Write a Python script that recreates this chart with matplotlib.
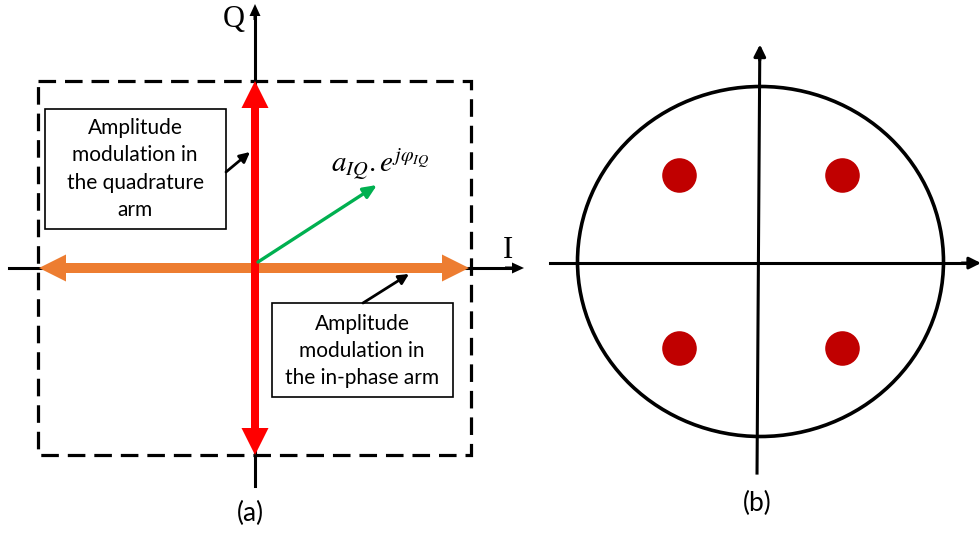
import matplotlib.pyplot as plt
from matplotlib.patches import FancyArrow, Rectangle, Ellipse

plt.rcParams['mathtext.fontset'] = 'stix'

# ---- panel (a) layout (pixel units) ----
origin_a = (255, 268)
box_rect = [38, 81, 471, 455]          # dashed frame: left, top, right, bottom
q_arm = [81, 455]                      # red arrow, y ends
i_arm = [39, 469]                      # orange arrow, x ends
iq_vec = [(258, 262), (377, 185)]      # green vector
label_q = "Q"
label_i = "I"
formula = r'$a_{IQ}.e^{j\varphi_{IQ}}$'
note_q = "Amplitude\nmodulation in\nthe quadrature\narm"
note_i = "Amplitude\nmodulation in\nthe in-phase arm"

# ---- panel (b): QPSK constellation (units of circle radius) ----
const_i = [-0.443, 0.443, -0.443, 0.443]
const_q = [0.494, 0.494, -0.494, -0.494]

fig = plt.figure(figsize=(9.8, 5.35), dpi=100)
ax = fig.add_axes([0, 0, 1, 1])
ax.set_xlim(0, 980)
ax.set_ylim(535, 0)
ax.axis('off')

def arr(x0, y0, x1, y1, w, hw, hl, c, z=3):
    ax.add_patch(FancyArrow(x0, y0, x1 - x0, y1 - y0, width=w, head_width=hw,
                            head_length=hl, length_includes_head=True,
                            color=c, lw=0, zorder=z))

ox, oy = origin_a
# axes
ax.plot([ox, ox], [486, 15], color='k', lw=2.2, zorder=2)
arr(ox, 20, ox, 4, 3, 11, 12, 'k', 2)
ax.plot([9, 513], [oy, oy], color='k', lw=2.2, zorder=2)
arr(505, oy, 524, oy, 3, 11, 12, 'k', 2)
ax.text(234, 19, label_q, fontsize=22, family='Liberation Serif', ha='center', va='center')
ax.text(508, 251, label_i, fontsize=22, family='Liberation Serif', ha='center', va='center')

# dashed frame
l, t, r, b = box_rect
ax.add_patch(Rectangle((l, t), r - l, b - t, fill=False, ec='k', lw=2.3,
                       ls=(0, (5.5, 2.8)), zorder=1))

# orange and red double arrows
arr(ox, oy, i_arm[0], oy, 10, 27, 27, '#ED7D31', 3)
arr(ox, oy, i_arm[1], oy, 10, 27, 27, '#ED7D31', 3)
arr(ox, oy, ox, q_arm[0], 8, 27, 27, '#FF0000', 4)
arr(ox, oy, ox, q_arm[1], 8, 27, 27, '#FF0000', 4)

# green vector
(gx0, gy0), (gx1, gy1) = iq_vec
ax.annotate('', xy=(gx1, gy1), xytext=(gx0, gy0),
            arrowprops=dict(arrowstyle='-|>,head_length=0.8,head_width=0.35',
                            color='#00B050', lw=2.4, shrinkA=0, shrinkB=0), zorder=5)
ax.text(331, 165, formula, fontsize=21, ha='left', va='center')

# note boxes
ax.add_patch(Rectangle((45, 109), 181, 120, fill=True, fc='white', ec='k', lw=1.2, zorder=5))
ax.text(135, 169, note_q, fontsize=15, family='Lato', ha='center', va='center',
        linespacing=1.45, zorder=6)
ax.add_patch(Rectangle((272, 303), 181, 94, fill=True, fc='white', ec='k', lw=1.2, zorder=5))
ax.text(362, 351, note_i, fontsize=15, family='Lato', ha='center', va='center',
        linespacing=1.45, zorder=6)

ax.annotate('', xy=(250, 152), xytext=(226, 172),
            arrowprops=dict(arrowstyle='-|>,head_length=0.6,head_width=0.3',
                            color='k', lw=2.0, shrinkA=0, shrinkB=0), zorder=6)
ax.annotate('', xy=(409, 274), xytext=(363, 303),
            arrowprops=dict(arrowstyle='-|>,head_length=0.6,head_width=0.3',
                            color='k', lw=2.0, shrinkA=0, shrinkB=0), zorder=6)

ax.text(250, 513, "(a)", fontsize=19, family='Lato', ha='center', va='center')

# ---- panel (b) ----
bx = fig.add_axes([540 / 980, 0, 440 / 980, 1])
bx.set_xlim((540 - 760.5) / 183, (980 - 760.5) / 183)
bx.set_ylim(-(535 - 261.5) / 175, 261.5 / 175)
bx.axis('off')
bx.add_patch(Ellipse((0, 0), 2, 2, fill=False, ec='k', lw=2.6))
bx.plot([-1.153, 1.16], [-0.009, -0.009], color='k', lw=2.2)
bx.annotate('', xy=(1.205, -0.009), xytext=(1.1, -0.009), annotation_clip=False,
            arrowprops=dict(arrowstyle='-|>,head_length=0.7,head_width=0.35',
                            color='k', lw=2.2, shrinkA=0, shrinkB=0))
bx.plot([-0.019, -0.004], [-1.209, 1.18], color='k', lw=2.2)
bx.annotate('', xy=(-0.003, 1.24), xytext=(-0.004, 1.15), annotation_clip=False,
            arrowprops=dict(arrowstyle='-|>,head_length=0.7,head_width=0.35',
                            color='k', lw=2.2, shrinkA=0, shrinkB=0))
bx.scatter(const_i, const_q, s=620, color='#C00000', lw=0, zorder=3)
bx.text(-0.02, -(503 - 261.5) / 175, "(b)", fontsize=19, family='Lato',
        ha='center', va='center')

fig.savefig('out.png', dpi=100)
